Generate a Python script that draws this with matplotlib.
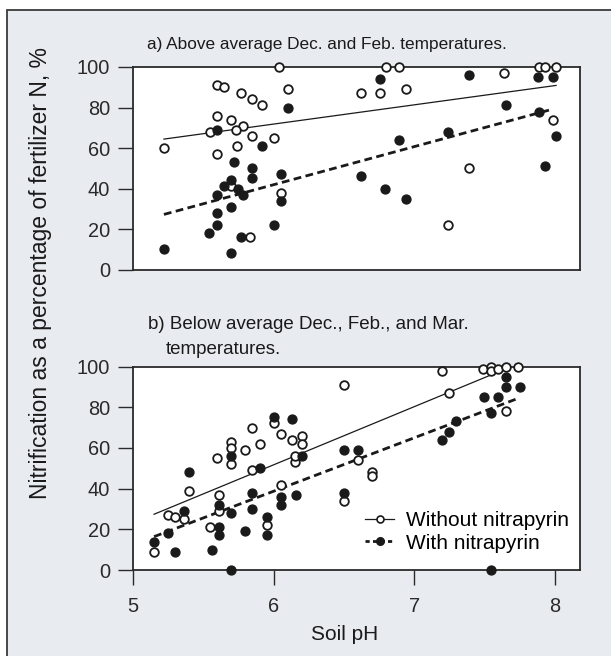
import matplotlib.pyplot as plt
from matplotlib.lines import Line2D
from matplotlib.patches import Rectangle

plt.rcParams['font.family'] = ['Liberation Sans', 'DejaVu Sans']

# a) Above average Dec. and Feb. temperatures
a_without_ph = [5.22, 5.60, 5.65, 5.77, 5.85, 5.92, 6.04, 6.10, 5.60, 5.70, 5.78, 5.55,
                5.73, 5.85, 6.00, 5.74, 5.60, 5.70, 6.05, 5.83, 6.80, 6.89, 6.62, 6.76,
                6.94, 7.64, 7.89, 7.93, 8.01, 7.99, 7.39, 7.24]
a_without_val = [60, 91, 90, 87, 84, 81, 100, 89, 76, 74, 71, 68,
                 69, 66, 65, 61, 57, 41, 38, 16, 100, 100, 87, 87,
                 89, 97, 100, 100, 100, 74, 50, 22]
a_with_ph = [6.10, 5.60, 5.92, 5.72, 5.85, 5.85, 6.05, 5.70, 5.65, 5.75, 5.78, 5.60,
             6.05, 5.70, 5.60, 5.60, 5.54, 6.00, 5.77, 5.22, 5.70, 6.76, 7.39, 7.88,
             7.99, 7.65, 7.89, 7.24, 6.89, 8.01, 6.62, 6.79, 6.94, 7.93]
a_with_val = [80, 69, 61, 53, 50, 45, 47, 44, 41, 40, 37, 37,
              34, 31, 28, 22, 18, 22, 16, 10, 8, 94, 96, 95,
              95, 81, 78, 68, 64, 66, 46, 40, 35, 51]
a_fit_without_ph, a_fit_without_val = [5.22, 8.01], [64.4, 90.9]
a_fit_with_ph, a_fit_with_val = [5.22, 7.97], [27.2, 78.9]

# b) Below average Dec., Feb., and Mar. temperatures
b_without_ph = [5.15, 5.25, 5.30, 5.36, 5.40, 5.60, 5.61, 5.61, 5.55, 5.70, 5.70, 5.70,
                5.80, 5.85, 5.90, 5.85, 5.95, 6.00, 6.05, 6.05, 6.13, 6.15, 6.20, 6.20,
                6.15, 6.50, 7.20, 7.25, 7.49, 7.55, 7.55, 7.60, 7.65, 7.74, 7.65, 6.60,
                6.70, 6.70, 6.50]
b_without_val = [9, 27, 26, 25, 39, 55, 37, 29, 21, 63, 60, 52,
                 59, 70, 62, 49, 22, 72, 67, 42, 64, 53, 66, 62,
                 56, 91, 98, 87, 99, 100, 98, 99, 100, 100, 78, 54,
                 48, 46, 34]
b_with_ph = [5.15, 5.25, 5.30, 5.36, 5.40, 5.56, 5.61, 5.61, 5.61, 5.70, 5.70, 5.70,
             5.80, 5.85, 5.85, 5.90, 5.95, 5.95, 6.00, 6.05, 6.05, 6.13, 6.16, 6.20,
             6.50, 6.60, 6.50, 7.20, 7.25, 7.30, 7.50, 7.60, 7.55, 7.65, 7.65, 7.75,
             7.55]
b_with_val = [14, 18, 9, 29, 48, 10, 32, 21, 17, 56, 28, 0,
              19, 38, 30, 50, 26, 17, 75, 36, 32, 74, 37, 56,
              59, 59, 38, 64, 68, 73, 85, 85, 77, 95, 90, 90,
              0]
b_fit_without_ph, b_fit_without_val = [5.15, 7.65], [27.4, 98.8]
b_fit_with_ph, b_fit_with_val = [5.15, 7.73], [16.4, 84.1]

y_ticks = [0, 20, 40, 60, 80, 100]
x_ticks = [5, 6, 7, 8]

fig = plt.figure(figsize=(6.11, 6.56), dpi=100, facecolor='white')

# grey panel with a dark frame
fig.add_artist(Rectangle((7 / 611, -0.02), 1.0, 1.02 - 10 / 656, transform=fig.transFigure,
                         facecolor='#e8ebf0', edgecolor='#3a3a3a', lw=1.3, zorder=0))

ax_a = fig.add_axes([133 / 611, 1 - 269.5 / 656, 447 / 611, 202.5 / 656])
ax_b = fig.add_axes([133 / 611, 1 - 570 / 656, 447 / 611, 203.5 / 656])

dash = (0, (2.8, 1.6))
open_kw = dict(marker='o', ms=6.2, mfc='white', mec='#1a1a1a', mew=1.3, ls='none', clip_on=False, zorder=3)
fill_kw = dict(marker='o', ms=6.4, mfc='#1a1a1a', mec='#1a1a1a', ls='none', clip_on=False, zorder=4)

for ax, wo, wi, fwo, fwi in [
        (ax_a, (a_without_ph, a_without_val), (a_with_ph, a_with_val),
         (a_fit_without_ph, a_fit_without_val), (a_fit_with_ph, a_fit_with_val)),
        (ax_b, (b_without_ph, b_without_val), (b_with_ph, b_with_val),
         (b_fit_without_ph, b_fit_without_val), (b_fit_with_ph, b_fit_with_val))]:
    ax.plot(*fwo, color='#1a1a1a', lw=0.9, zorder=2)
    ax.plot(*fwi, color='#1a1a1a', lw=2.0, ls=dash, zorder=2)
    ax.plot(*wo, **open_kw)
    ax.plot(*wi, **fill_kw)
    ax.set_xlim(5, 8.18)
    ax.set_ylim(0, 100)
    ax.set_yticks(y_ticks)
    ax.set_facecolor('white')
    for s in ax.spines.values():
        s.set_linewidth(1.3)
        s.set_color('#2a2a2a')
    ax.tick_params(axis='y', direction='out', length=10.5, width=1, pad=6,
                   labelsize=14.4, colors='#2a2a2a')

ax_a.tick_params(axis='x', bottom=False, labelbottom=False)
ax_b.set_xticks(x_ticks)
ax_b.tick_params(axis='x', direction='out', length=10.5, width=1, pad=9,
                 labelsize=14.4, colors='#2a2a2a')

fig.text(147 / 611, 1 - 45 / 656, 'a) Above average Dec. and Feb. temperatures.',
         ha='left', va='center', fontsize=12.4, color='#1a1a1a')
fig.text(148 / 611, 1 - 325 / 656, 'b) Below average Dec., Feb., and Mar.',
         ha='left', va='center', fontsize=13.5, color='#1a1a1a')
fig.text(166 / 611, 1 - 350 / 656, 'temperatures.',
         ha='left', va='center', fontsize=13.5, color='#1a1a1a')

fig.text(41 / 611, 1 - 273 / 656, 'Nitrification as a percentage of fertilizer N, %',
         rotation=90, ha='center', va='center', fontsize=16.5, color='#1a1a1a')
fig.text(345 / 611, 1 - 635 / 656, 'Soil pH', ha='center', va='center',
         fontsize=15, color='#1a1a1a')

handles = [Line2D([], [], color='#1a1a1a', lw=0.9, marker='o', ms=5, mfc='white', mec='#1a1a1a', mew=1.2),
           Line2D([], [], color='#1a1a1a', lw=2.0, ls=(0, (1.5, 1.2)), marker='o', ms=5.5, mfc='#1a1a1a')]
ax_b.legend(handles, ['Without nitrapyrin', 'With nitrapyrin'], loc='center left',
            bbox_to_anchor=(365 / 611, 1 - 532 / 656), bbox_transform=fig.transFigure,
            frameon=False, fontsize=15, handlelength=1.4, handletextpad=0.55,
            labelspacing=0.15, borderpad=0, borderaxespad=0)

fig.savefig('out.png', dpi=100, facecolor=fig.get_facecolor())
